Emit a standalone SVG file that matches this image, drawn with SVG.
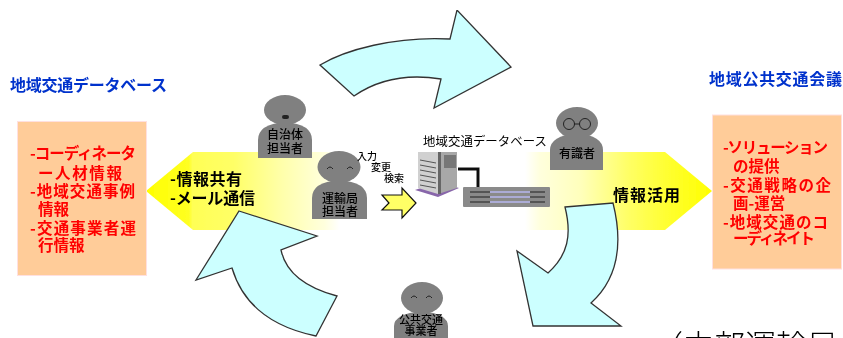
<svg xmlns="http://www.w3.org/2000/svg" width="843" height="338" viewBox="0 0 843 338">
<style>
text{font-family:"Noto Sans CJK JP","Liberation Sans",sans-serif}
.title{font-size:16px;font-weight:700;fill:#0033cc}
.red{font-size:15.500px;font-weight:700;fill:#ff0000}
.blk{font-size:16px;font-weight:700;fill:#000}
.p{font-size:12px;font-weight:500;fill:#000;text-anchor:middle}
.s{font-size:10px;font-weight:500;fill:#000;text-anchor:middle}
.body{fill:#808080}
.box{fill:#ffcc99;stroke:#ffe0e0;stroke-width:1}
.curve{fill:#ccffff;stroke:#333;stroke-width:1.300;stroke-linejoin:miter}
.face{fill:none;stroke:#222;stroke-width:1}
</style>
<defs>
<linearGradient id="gl" gradientUnits="userSpaceOnUse" x1="146" y1="0" x2="340" y2="0">
<stop offset="0" stop-color="#ffff00"/><stop offset=".22" stop-color="#ffff22"/><stop offset=".24" stop-color="#ffff55"/><stop offset=".45" stop-color="#ffff66"/><stop offset=".7" stop-color="#ffffaa"/><stop offset=".92" stop-color="#ffffdd"/><stop offset="1" stop-color="#ffffff"/>
</linearGradient>
<linearGradient id="gr" gradientUnits="userSpaceOnUse" x1="712" y1="0" x2="525" y2="0">
<stop offset="0" stop-color="#ffff00"/><stop offset=".25" stop-color="#ffff33"/><stop offset=".45" stop-color="#ffff66"/><stop offset=".7" stop-color="#ffffbb"/><stop offset=".92" stop-color="#ffffdd"/><stop offset="1" stop-color="#ffffff"/>
</linearGradient>
<filter id="soft" x="0" y="0" width="100%" height="100%"><feGaussianBlur stdDeviation="0.45"/></filter>
</defs>
<rect width="843" height="338" fill="#fff"/>
<g filter="url(#soft)">
<g id="connectors">
<path d="M146 191L193 152H340V230H193Z" fill="url(#gl)"/>
<path d="M712 191L665 152H525V230H665Z" fill="url(#gr)"/>
<path class="curve" d="M320 65C345 50 395 36 450 39L457 10L511 67L434 108L441 79C410 74 380 78 354 96Z"/>
<path class="curve" d="M565 207L613 203C621 235 622 275 591 303L621 326H533L517 251L548 273C568 255 572 235 565 207Z"/>
<path class="curve" d="M239 211L317 236L281 250Q288 283 337 296L316 336Q248 322 232 268L196 280Z"/>
<path d="M382 195H402V188L416 203L402 218V210H382L389 203Z" fill="#ffff66" stroke="#111" stroke-width="1.2"/>
</g>
<g id="db-left">
<text class="title" x="10" y="91" textLength="157" lengthAdjust="spacing">地域交通データベース</text>
<rect class="box" x="17.500" y="121.500" width="129" height="154"/>
<text class="red" x="30" y="159" textLength="106">-コーディネータ</text>
<text class="red" x="38" y="179" textLength="84">ー人材情報</text>
<text class="red" x="30" y="197" textLength="105">-地域交通事例</text>
<text class="red" x="38" y="215">情報</text>
<text class="red" x="30" y="234" textLength="106">-交通事業者運</text>
<text class="red" x="38" y="251">行情報</text>
</g>
<g id="share-label">
<text class="blk" x="170" y="185" textLength="72">-情報共有</text>
<text class="blk" x="170" y="204" textLength="85">-メール通信</text>
</g>
<g id="person-municipality">
<ellipse class="body" cx="285" cy="110" rx="21" ry="15"/>
<path class="body" d="M258 158V140Q258 124 285 122Q312 124 312 140V158Z"/>
<rect x="282" y="115" width="7" height="4" rx="2" fill="#222"/>
<text class="p" x="285" y="139">自治体</text>
<text class="p" x="285" y="153">担当者</text>
</g>
<g id="person-bureau">
<ellipse class="body" cx="339" cy="167" rx="21.500" ry="16"/>
<path class="body" d="M312 219V198Q312 182 339 180Q367 182 367 198V219Z"/>
<path class="face" d="M335 169q3-4 6 0M355 169q3-4 6 0" transform="translate(-8,0)"/>
<text class="p" x="340" y="203">運輸局</text>
<text class="p" x="340" y="216">担当者</text>
</g>
<g id="labels">
<text class="s" x="367" y="160">入力</text>
<text class="s" x="381" y="171">変更</text>
<text class="s" x="394" y="182">検索</text>
</g>
<g id="database">
<text x="423" y="146" font-size="12.400" textLength="124">地域交通データベース</text>
<path d="M458 169H478V188" fill="none" stroke="#111" stroke-width="3"/>
<path d="M415 190L438 197L459 188L438 182Z" fill="#8866aa"/>
<path d="M418 152H438V194L418 188Z" fill="#d0d0d0"/>
<path d="M438 152H457V188L438 194Z" fill="#a8a8a8"/>
<path d="M438 152H441V194H438Z" fill="#666"/>
<path d="M444 155H456V168H444Z" fill="#777"/>
<path d="M420 160L436 163M420 165L436 168M420 170L436 173M420 175L436 178M420 180L436 183M420 185L436 188" stroke="#555" stroke-width="1"/>
<rect x="463" y="187" width="87" height="20" rx="1" fill="#8a8a8a"/>
<path d="M470 192H545M470 197H545M470 202H545" stroke="#444" stroke-width="1.500"/>
<path d="M490 192H530M490 197H530M490 202H530" stroke="#c8c8ff" stroke-width="1.500"/>
</g>
<g id="person-expert">
<ellipse class="body" cx="577" cy="123" rx="21" ry="16"/>
<path class="body" d="M550 170V150Q550 136 577 133Q603 136 603 150V170Z"/>
<circle cx="569" cy="124" r="5.500" class="face"/>
<circle cx="585" cy="124" r="5.500" class="face"/>
<path class="face" d="M574.500 124H579.500"/>
<text class="p" x="577" y="158">有識者</text>
</g>
<g id="use-label">
<text class="blk" x="613" y="201" font-size="16.500" textLength="67">情報活用</text>
</g>
<g id="council">
<text class="title" x="709" y="85" textLength="133">地域公共交通会議</text>
<rect class="box" x="712.500" y="115" width="129" height="154"/>
<text class="red" x="723" y="153" textLength="105">-ソリューション</text>
<text class="red" x="733" y="172">の提供</text>
<text class="red" x="723" y="191" textLength="108">-交通戦略の企</text>
<text class="red" x="733" y="209">画-運営</text>
<text class="red" x="723" y="228" textLength="105">-地域交通のコ</text>
<text class="red" x="733" y="244" textLength="82">ーディネイト</text>
</g>
<g id="person-operator">
<ellipse class="body" cx="422" cy="298" rx="21" ry="16"/>
<path class="body" d="M394 338V326Q394 314 422 311Q448 314 448 326V338Z"/>
<path class="face" d="M411 298q3-4 6 0M426 298q3-4 6 0"/>
<text x="421" y="323.500" class="p" style="font-size:11px">公共交通</text>
<text x="421" y="334.500" class="p" style="font-size:11px">事業者</text>
</g>
<g id="source">
<text x="652" y="357" font-size="31" font-weight="300">（中部運輸局</text>
</g>
</g>
</svg>
